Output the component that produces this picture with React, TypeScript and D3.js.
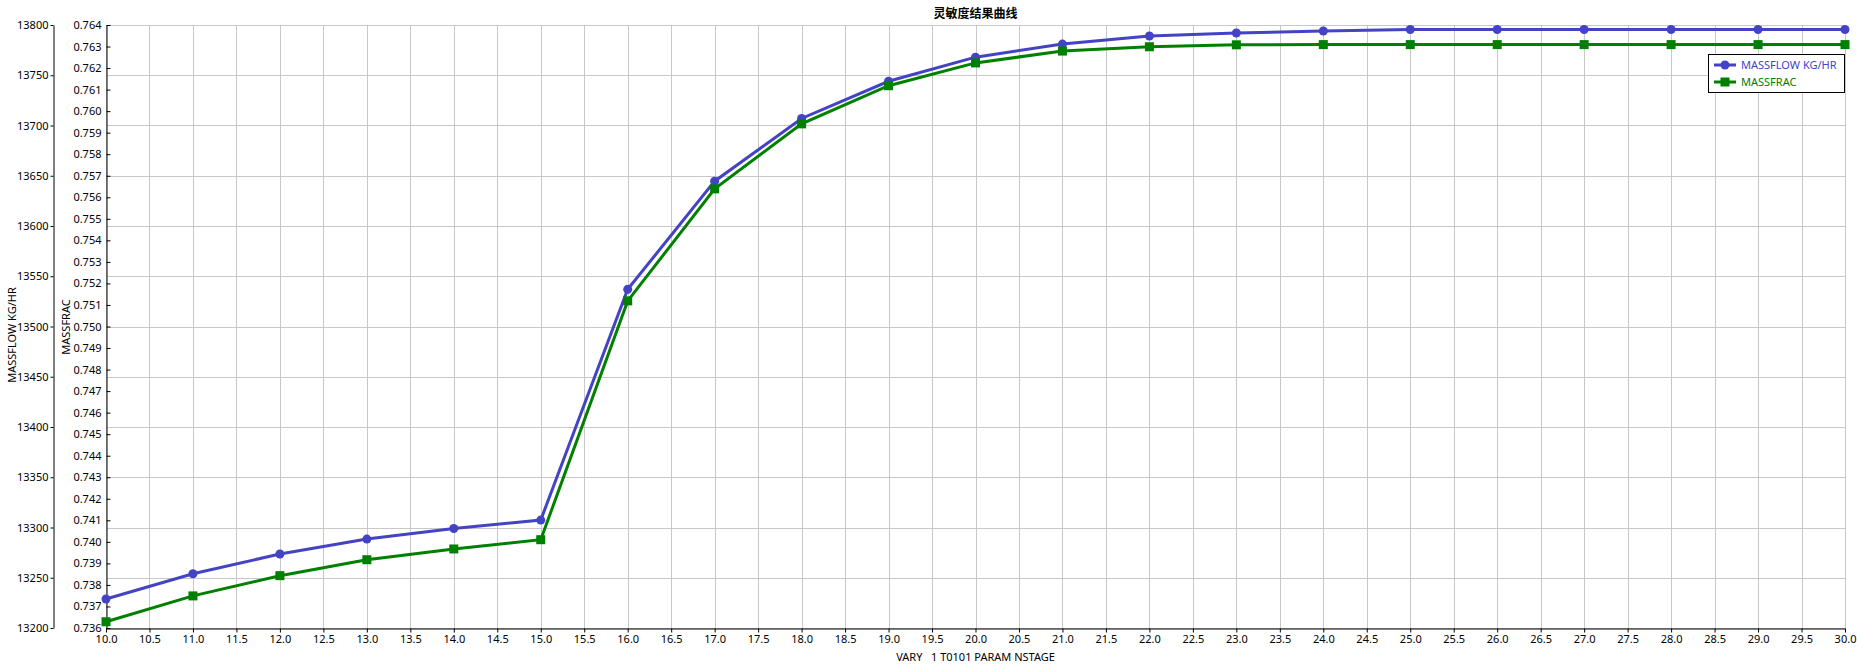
import React, { useRef, useEffect } from 'react';
import * as d3 from 'd3';

// VARY 1 T0101 PARAM NSTAGE
const stages = [10, 11, 12, 13, 14, 15, 16, 17, 18, 19, 20, 21, 22, 23, 24, 25, 26, 27, 28, 29, 30];
const massflow = [13228.8, 13254, 13273.6, 13288.5, 13299, 13307.4, 13537, 13644.6, 13707, 13744, 13768, 13781, 13789, 13792, 13794, 13795.5, 13795.5, 13795.5, 13795.5, 13795.5, 13795.5];
const massfrac = [0.73629, 0.73749, 0.73843, 0.73917, 0.73967, 0.7401, 0.75119, 0.75639, 0.75941, 0.76118, 0.76224, 0.76279, 0.76299, 0.76308, 0.76309, 0.76309, 0.76309, 0.76309, 0.76309, 0.76309, 0.76309];

const flowTicks = d3.range(13200, 13800.1, 50);
const fracTicks = d3.range(0.736, 0.76401, 0.001);
const stageTicks = d3.range(10, 30.01, 0.5);

const title = '灵敏度结果曲线';
const xLabel = 'VARY   1 T0101 PARAM NSTAGE';
const flowLabel = 'MASSFLOW KG/HR';
const fracLabel = 'MASSFRAC';

const BLUE = '#4343c4';
const GREEN = '#008000';
const FONT = '"Noto Sans", "Noto Sans CJK SC", sans-serif';

const App: React.FC = () => {
    const svgRef = useRef<SVGSVGElement>(null);
    const width = 1857;
    const height = 665;

    useEffect(() => {
        if (!svgRef.current) return;
        const svg = d3.select(svgRef.current);
        svg.selectAll('*').remove();

        const plot = { left: 106, right: 1845, top: 25, bottom: 628 };
        const flowAxisX = 53;
        const midX = (plot.left + plot.right) / 2;

        const x = d3.scaleLinear().domain([10, 30]).range([plot.left, plot.right]);
        const yFlow = d3.scaleLinear().domain([13200, 13800]).range([plot.bottom, plot.top]);
        const yFrac = d3.scaleLinear().domain([0.736, 0.764]).range([plot.bottom, plot.top]);

        // grid
        const grid = svg.append('g').attr('stroke', '#c8c8c8').attr('stroke-width', 1);
        stageTicks.forEach(t => {
            grid.append('line')
                .attr('x1', Math.round(x(t)) + 0.5).attr('x2', Math.round(x(t)) + 0.5)
                .attr('y1', plot.top).attr('y2', plot.bottom);
        });
        flowTicks.forEach(t => {
            grid.append('line')
                .attr('x1', plot.left).attr('x2', plot.right)
                .attr('y1', Math.round(yFlow(t)) + 0.5).attr('y2', Math.round(yFlow(t)) + 0.5);
        });

        const styleAxis = (g: d3.Selection<SVGGElement, unknown, null, undefined>) => {
            g.attr('font-family', FONT).attr('font-size', '11px');
            g.selectAll('text').attr('fill', '#000');
            g.selectAll('line').attr('stroke', '#000');
            g.select('.domain').attr('stroke', '#000');
        };

        // x axis
        const xAxis = svg.append('g')
            .attr('transform', `translate(0,${plot.bottom + 0.5})`)
            .call(d3.axisBottom(x).tickValues(stageTicks).tickFormat(d3.format('.1f')).tickSize(4).tickSizeOuter(0).tickPadding(3));
        styleAxis(xAxis);

        // left axis: MASSFLOW
        const flowAxis = svg.append('g')
            .attr('transform', `translate(${flowAxisX + 0.5},0)`)
            .call(d3.axisLeft(yFlow).tickValues(flowTicks).tickFormat(d3.format('d')).tickSize(3).tickSizeOuter(0).tickPadding(2));
        styleAxis(flowAxis);

        // second axis: MASSFRAC, ticks pointing inward
        const fracAxis = svg.append('g')
            .attr('transform', `translate(${plot.left + 0.5},0)`)
            .call(d3.axisLeft(yFrac).tickValues(fracTicks).tickFormat(d3.format('.3f')).tickSize(-4).tickSizeOuter(0).tickPadding(5));
        styleAxis(fracAxis);

        // titles
        svg.append('text')
            .attr('x', midX).attr('y', 18)
            .attr('text-anchor', 'middle')
            .attr('font-family', FONT).attr('font-size', '12px').attr('font-weight', 'bold')
            .text(title);

        svg.append('text')
            .attr('x', midX).attr('y', 661)
            .attr('text-anchor', 'middle')
            .style('white-space', 'pre')
            .attr('xml:space', 'preserve')
            .attr('font-family', FONT).attr('font-size', '11px')
            .text(xLabel);

        svg.append('text')
            .attr('transform', `translate(16,335) rotate(-90)`)
            .attr('text-anchor', 'middle')
            .attr('font-family', FONT).attr('font-size', '11px')
            .text(flowLabel);

        svg.append('text')
            .attr('transform', `translate(70,327) rotate(-90)`)
            .attr('text-anchor', 'middle')
            .attr('font-family', FONT).attr('font-size', '11px')
            .text(fracLabel);

        // series
        const flowLine = d3.line<number>().x((_, i) => x(stages[i])).y(d => yFlow(d));
        const fracLine = d3.line<number>().x((_, i) => x(stages[i])).y(d => yFrac(d));

        svg.append('path').datum(massflow)
            .attr('fill', 'none').attr('stroke', BLUE).attr('stroke-width', 3)
            .attr('d', flowLine);
        svg.append('g').selectAll('circle').data(massflow).join('circle')
            .attr('cx', (_, i) => x(stages[i])).attr('cy', d => yFlow(d))
            .attr('r', 4.5).attr('fill', BLUE);

        svg.append('path').datum(massfrac)
            .attr('fill', 'none').attr('stroke', GREEN).attr('stroke-width', 3)
            .attr('d', fracLine);
        svg.append('g').selectAll('rect').data(massfrac).join('rect')
            .attr('x', (_, i) => x(stages[i]) - 4.5).attr('y', d => yFrac(d) - 4.5)
            .attr('width', 9).attr('height', 9).attr('fill', GREEN);

        // legend
        const lg = svg.append('g').attr('transform', 'translate(1708,54)');
        lg.append('rect').attr('x', 0.5).attr('y', 0.5).attr('width', 136).attr('height', 38)
            .attr('fill', '#fff').attr('stroke', '#000').attr('stroke-width', 1);
        const entries = [
            { name: flowLabel, color: BLUE, shape: 'circle' },
            { name: fracLabel, color: GREEN, shape: 'square' },
        ];
        entries.forEach((e, i) => {
            const cy = 11 + i * 17;
            lg.append('line').attr('x1', 6).attr('x2', 28).attr('y1', cy).attr('y2', cy)
                .attr('stroke', e.color).attr('stroke-width', 3);
            if (e.shape === 'circle') {
                lg.append('circle').attr('cx', 17).attr('cy', cy).attr('r', 4.5).attr('fill', e.color);
            } else {
                lg.append('rect').attr('x', 12.5).attr('y', cy - 4.5).attr('width', 9).attr('height', 9).attr('fill', e.color);
            }
            lg.append('text').attr('x', 33).attr('y', cy + 4)
                .attr('font-family', FONT).attr('font-size', '11px')
                .attr('fill', e.color)
                .text(e.name);
        });
    }, []);

    return (
        <div style={{ position: 'absolute', left: 0, top: 0, width, height, background: '#fff' }}>
            <svg ref={svgRef} width={width} height={height} style={{ display: 'block' }} />
        </div>
    );
};

export default App;
